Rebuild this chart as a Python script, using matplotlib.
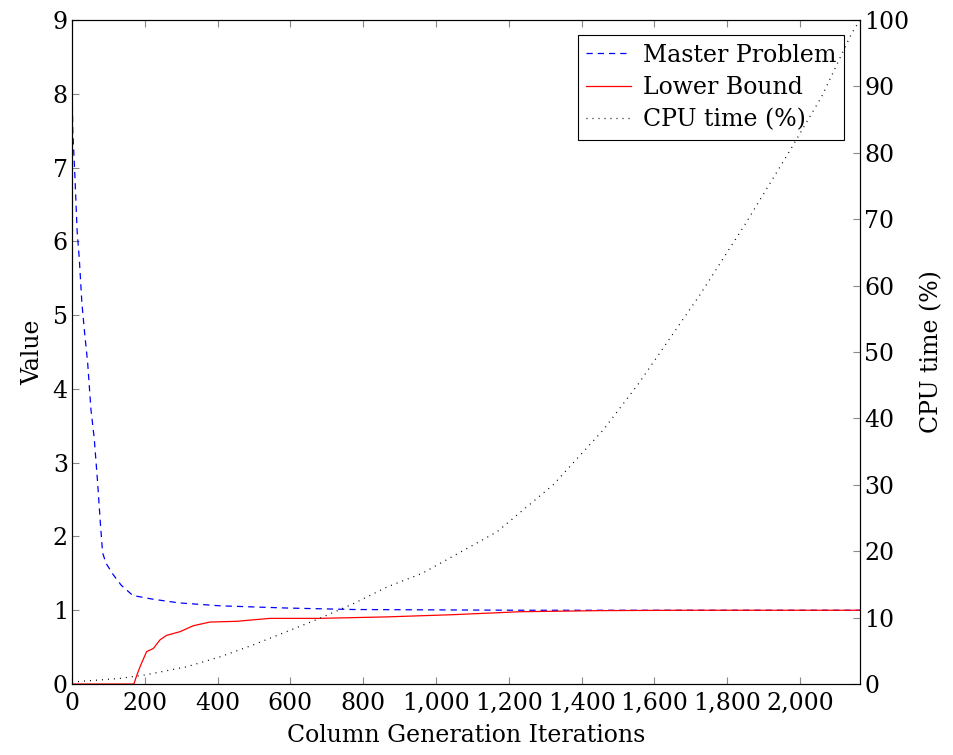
import matplotlib.pyplot as plt
from matplotlib.ticker import FuncFormatter

plt.rcParams['font.family'] = ['DejaVu Serif']
plt.rcParams['mathtext.fontset'] = 'dejavuserif'

# Master problem objective
mp_iter = [0, 2, 8, 14, 20, 27, 34, 43, 52, 61, 70, 78, 84, 93, 112, 135, 167,
           222, 293, 407, 590, 773, 1000, 1231, 1450, 1700, 2000, 2165]
mp_value = [8.16, 7.5, 6.87, 6.14, 5.76, 5.17, 4.79, 4.35, 3.72, 3.33, 2.75,
            2.17, 1.78, 1.64, 1.49, 1.34, 1.2, 1.15, 1.1, 1.06, 1.03, 1.01,
            1.005, 1.0, 1.0, 1.0, 1.0, 1.0]

# Lower bound
lb_iter = [0, 170, 178, 189, 205, 223, 242, 260, 297, 333, 379, 452, 544, 681,
           865, 1047, 1231, 1450, 1700, 2000, 2165]
lb_value = [0, 0, 0.12, 0.26, 0.44, 0.48, 0.60, 0.66, 0.71, 0.79, 0.84, 0.85,
            0.89, 0.89, 0.91, 0.94, 0.98, 0.995, 1.0, 1.0, 1.0]

# CPU time (%)
cpu_iter = [0, 132, 200, 315, 407, 498, 590, 681, 773, 865, 963, 1167, 1322,
            1460, 1556, 1725, 1850, 1973, 2060, 2142, 2165]
cpu_pct = [0.3, 0.85, 1.36, 2.6, 4.1, 5.9, 7.9, 9.9, 12.1, 14.6, 16.7, 22.9,
           30.0, 38.3, 45.2, 58.6, 69.3, 80.4, 88.5, 98.0, 100.0]

fig = plt.figure(figsize=(9.54, 7.55), dpi=100)
ax = fig.add_axes([0.0755, 0.094, 0.826, 0.8795])
ax2 = ax.twinx()

l1, = ax.plot(mp_iter, mp_value, color='blue', lw=0.9, dashes=(5, 4),
              label='Master Problem')
l2, = ax.plot(lb_iter, lb_value, color='red', lw=0.9, label='Lower Bound')
l3, = ax2.plot(cpu_iter, cpu_pct, color='black', lw=0.9, dashes=(0.8, 4),
               label='CPU time (%)')

ax.set_xlim(0, 2165)
ax.set_ylim(0, 9)
ax2.set_ylim(0, 100)
ax.set_xticks(range(0, 2001, 200))
ax.set_yticks(range(0, 10))
ax2.set_yticks(range(0, 101, 10))
ax.xaxis.set_major_formatter(FuncFormatter(lambda v, p: f"{int(v):,}"))

for a in (ax, ax2):
    a.tick_params(direction='in', length=5, width=0.8, color='#888888',
                  labelsize=17, pad=3)
ax.tick_params(axis='x', top=True, pad=6)
ax.tick_params(axis='y', right=False)
ax2.tick_params(axis='y', left=False, right=True)

ax.set_xlabel('Column Generation Iterations', fontsize=17, labelpad=6)
ax.set_ylabel('Value', fontsize=17, labelpad=6)
ax2.set_ylabel('CPU time (%)', fontsize=17, labelpad=8)

leg = ax.legend(handles=[l1, l2, l3], loc='upper right',
                bbox_to_anchor=(0.980, 0.977), fontsize=17, frameon=True,
                fancybox=False, edgecolor='black', framealpha=1,
                handlelength=1.9, handletextpad=0.5, borderpad=0.35,
                labelspacing=0.4, borderaxespad=0)
leg.get_frame().set_linewidth(0.8)

fig.savefig('out.png', dpi=100)
